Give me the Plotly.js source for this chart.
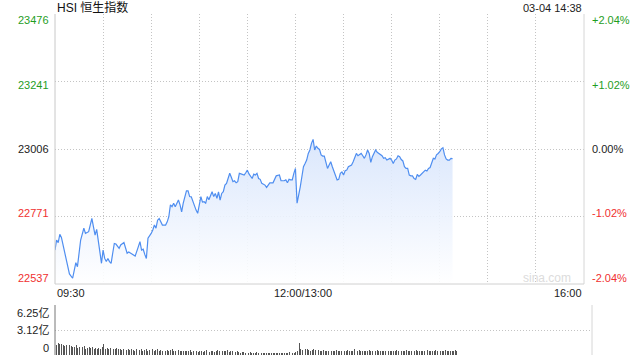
<!DOCTYPE html>
<html>
<head>
<meta charset="utf-8">
<script src="https://cdn.plot.ly/plotly-3.0.1.min.js"></script>
<style>html,body{margin:0;padding:0;background:#fff;}#chart{width:640px;height:360px;}</style>
</head>
<body>
<div id="chart"></div>
<script>
// minutes since 09:30 on the trading clock (lunch break removed: 12:00 and 13:00 share minute 150)
const priceMinutes = [0,1,2,3,4,5,6,8,9,11,12,13,14,15,16,18,19,21,22,23,24,25,26,27,28,29,30,31,32,33,34,35,36,37,38,40,41,42,43,45,46,48,50,52,53,54,55,56,57,58,59,60,61,62,63,64,65,66,67,69,70,71,72,73,74,75,76,77,78,79,80,81,82,83,84,85,86,87,88,89,90,91,92,93,94,95,96,97,98,99,100,101,102,103,104,105,106,107,108,109,110,111,112,113,114,115,116,117,118,119,120,121,122,123,124,125,126,127,128,129,131,132,133,134,136,137,138,140,141,143,144,145,146,147,148,149,150,151,152,153,154,155,156,157,158,159,160,161,162,163,164,165,166,167,168,169,170,171,172,173,174,175,176,177,178,179,180,181,182,183,185,186,187,188,189,190,191,192,193,194,195,196,197,198,199,200,201,202,203,204,205,206,207,208,209,210,211,212,213,214,215,216,217,218,219,220,221,222,223,224,225,226,227,228,229,230,231,232,233,234,235,236,237,238,239,240,241,242,243,244,245,246,247,248];
const priceValues = [22655,22690,22681,22710,22699,22673,22644,22586,22572,22557,22580,22611,22597,22644,22690,22731,22713,22719,22748,22765,22736,22707,22727,22690,22638,22609,22655,22626,22615,22626,22615,22609,22644,22678,22676,22661,22673,22678,22681,22644,22648,22641,22634,22667,22684,22655,22658,22640,22626,22696,22704,22713,22725,22742,22731,22759,22765,22753,22742,22742,22753,22771,22812,22806,22818,22806,22818,22829,22812,22788,22818,22846,22861,22861,22841,22840,22823,22806,22794,22783,22812,22841,22822,22823,22818,22841,22830,22846,22858,22841,22852,22835,22857,22829,22852,22858,22881,22887,22904,22922,22908,22893,22896,22889,22893,22922,22920,22919,22916,22924,22933,22920,22910,22904,22919,22916,22922,22904,22901,22887,22881,22873,22881,22889,22889,22899,22913,22916,22896,22896,22899,22889,22901,22899,22899,22922,22939,22818,22841,22875,22910,22945,22956,22968,22991,23003,23026,23040,23003,23017,23009,23005,22986,22982,22982,22962,22939,22951,22962,22945,22927,22910,22899,22901,22922,22927,22916,22931,22933,22945,22951,22962,22980,22991,22983,22987,22991,22983,22974,22986,23003,22991,22960,22980,22991,23003,22995,22991,22986,22983,22974,22976,22968,22972,22974,22968,22956,22968,22972,22983,22980,22970,22965,22945,22939,22939,22916,22913,22913,22904,22901,22918,22911,22916,22922,22928,22933,22930,22939,22942,22956,22974,22972,22986,22991,22997,23007,23011,22986,22972,22968,22968,22974,22973];

// volume per minute, in 亿
const volumeValues = [
1.90,1.30,1.45,1.35,1.40,1.25,1.10,1.30,1.05,1.20,
1.15,0.95,1.05,1.25,0.85,1.00,0.90,0.95,1.10,0.80,
0.90,1.00,0.85,0.95,0.80,0.90,0.75,0.85,0.80,0.95,
1.35,0.80,0.90,0.75,0.85,0.70,0.80,0.75,0.90,0.70,
0.75,0.65,0.80,0.70,0.60,0.75,0.65,0.70,0.60,0.55,
0.70,0.60,0.65,0.75,0.55,0.60,0.70,0.55,0.65,0.60,
0.75,0.55,0.60,0.70,0.50,0.65,0.55,0.60,0.50,0.65,
0.55,0.60,0.75,0.50,0.55,0.45,0.60,0.50,0.55,0.45,
0.50,0.55,0.45,0.60,0.40,0.50,0.45,0.55,0.40,0.50,
0.45,0.40,0.55,0.60,0.45,0.40,0.50,0.45,0.40,0.55,
0.60,0.45,0.40,0.50,0.55,0.45,0.60,0.40,0.50,0.45,
0.40,0.35,0.45,0.40,0.30,0.35,0.40,0.30,0.35,0.30,
0.35,0.30,0.25,0.30,0.35,0.25,0.30,0.20,0.25,0.30,
0.25,0.20,0.25,0.30,0.20,0.25,0.20,0.30,0.25,0.20,
0.25,0.30,0.20,0.25,0.35,0.30,0.25,0.30,0.40,0.45,
1.50,0.70,0.60,0.65,0.75,0.70,0.60,0.55,0.65,0.70,
0.60,0.55,0.65,0.50,0.55,0.60,0.50,0.55,0.45,0.50,
0.55,0.50,0.45,0.60,0.50,0.55,0.45,0.50,0.55,0.45,
0.60,0.50,0.55,0.45,0.70,0.55,0.50,0.60,0.45,0.50,
0.55,0.45,0.50,0.60,0.45,0.50,0.55,0.45,0.65,0.50,
0.45,0.55,0.50,0.45,0.60,0.50,0.55,0.45,0.50,0.55,
0.60,0.45,0.50,0.55,0.45,0.50,0.60,0.55,0.45,0.50,
0.55,0.45,0.60,0.50,0.55,0.45,0.50,0.55,0.45,0.60,
0.50,0.55,0.45,0.50,0.60,0.55,0.50,0.45,0.55,0.50,
0.60,0.55,0.50,0.45,0.55,0.50,0.60,0.45];
const volumeMinutes = volumeValues.map((v, i) => i);

const priceTicks = [23476, 23241, 23006, 22771, 22537];
const priceTickLabels = ['23476', '23241', '23006', '22771', '22537'];
const pctTickLabels = ['+2.04%', '+1.02%', '0.00%', '-1.02%', '-2.04%'];
const volTickLabels = ['6.25亿', '3.12亿', '0'];
const volTicks = [6.25, 3.12, 0];
const timeTicks = [0, 30, 60, 90, 120, 150, 180, 210, 240, 270, 300, 330];
const timeLabels = ['09:30', '12:00/13:00', '16:00'];
const titleText = 'HSI 恒生指数';
const stampText = '03-04 14:38';
const prevClose = 23006;

const FONT = 'Liberation Sans, Arial, Noto Sans CJK SC, sans-serif';
const GREEN = '#1f9e1f', RED = '#f0302f', DARK = '#222';
const MAIN_END = 529 / 537;
const GRID = '#c4c4c4', GRIDDASH = '1px,2px';
const py = p => (355 - p) / 341; // pixel row -> paper y

const traces = [
  {
    x: priceMinutes, y: priceValues, type: 'scatter', mode: 'lines',
    line: {color: '#4f8ef0', width: 1.2},
    fill: 'tozeroy',
    fillgradient: {type: 'vertical', start: 22537, stop: 23045,
      colorscale: [[0, 'rgba(255,255,255,0.9)'], [1, 'rgba(214,228,252,0.9)']]},
    xaxis: 'x', yaxis: 'y', hoverinfo: 'skip'
  },
  {
    x: volumeMinutes, y: volumeValues, type: 'bar', width: 0.55,
    marker: {color: '#555', line: {width: 0}},
    xaxis: 'x2', yaxis: 'y2', hoverinfo: 'skip'
  }
];

const labelColor = v => v > prevClose ? GREEN : (v < prevClose ? RED : DARK);
const labelRows = [20, 84.5, 149, 213.5, 278];
const annotations = [];
priceTicks.forEach((v, i) => {
  annotations.push({xref: 'paper', yref: 'paper', x: 0, y: py(labelRows[i]), xanchor: 'right', yanchor: 'middle',
    xshift: -4, text: priceTickLabels[i], showarrow: false, font: {family: FONT, size: 11, color: labelColor(v)}});
  annotations.push({xref: 'paper', yref: 'paper', x: MAIN_END, y: py(labelRows[i]), xanchor: 'left', yanchor: 'middle',
    xshift: 6, text: pctTickLabels[i], showarrow: false, font: {family: FONT, size: 11, color: labelColor(v)}});
});
const volRows = [313, 330, 348];
volTicks.forEach((v, i) => {
  annotations.push({xref: 'paper', yref: 'paper', x: 0, y: py(volRows[i]), xanchor: 'right', yanchor: 'middle',
    xshift: -4, text: volTickLabels[i], showarrow: false, font: {family: FONT, size: 11, color: DARK}});
});
annotations.push({xref: 'paper', yref: 'paper', x: 0, y: py(293), xanchor: 'left', yanchor: 'middle',
  text: timeLabels[0], showarrow: false, font: {family: FONT, size: 11, color: DARK}});
annotations.push({xref: 'paper', yref: 'paper', x: (303 - 55) / 537, y: py(293), xanchor: 'center', yanchor: 'middle',
  text: timeLabels[1], showarrow: false, font: {family: FONT, size: 11, color: DARK}});
annotations.push({xref: 'paper', yref: 'paper', x: MAIN_END, y: py(293), xanchor: 'right', yanchor: 'middle',
  text: timeLabels[2], showarrow: false, font: {family: FONT, size: 11, color: DARK}});
annotations.push({xref: 'paper', yref: 'paper', x: 0, y: py(7.5), xanchor: 'left', yanchor: 'middle',
  text: titleText, showarrow: false, font: {family: FONT, size: 12, color: '#111'}});
annotations.push({xref: 'paper', yref: 'paper', x: MAIN_END, y: py(7.5), xanchor: 'right', yanchor: 'middle',
  text: stampText, showarrow: false, font: {family: FONT, size: 11, color: DARK}});
annotations.push({xref: 'paper', yref: 'paper', x: (573 - 55) / 537, y: py(278), xanchor: 'right', yanchor: 'middle',
  text: 'sina.com', showarrow: false, font: {family: FONT, size: 12, color: '#dcdcdc'}});

const shapes = [
  {type: 'line', xref: 'x domain', yref: 'y domain', x0: 0, x1: 0, y0: 0, y1: 1, line: {color: '#c8c8c8', width: 1}},
  {type: 'line', xref: 'x domain', yref: 'y domain', x0: 1, x1: 1, y0: 0, y1: 1, line: {color: '#d6d6d6', width: 1}},
  {type: 'line', xref: 'x domain', yref: 'y domain', x0: 0, x1: 1, y0: 0, y1: 0, line: {color: '#d0d0d0', width: 1}},
  {type: 'line', xref: 'x2 domain', yref: 'y2 domain', x0: 0, x1: 0, y0: 0, y1: 1, line: {color: '#777', width: 1}},
  {type: 'line', xref: 'x2 domain', yref: 'y2 domain', x0: 1, x1: 1, y0: 0, y1: 1, line: {color: '#d6d6d6', width: 1}}
];

const layout = {
  width: 640, height: 360,
  margin: {l: 55, r: 48, t: 14, b: 5, pad: 0},
  paper_bgcolor: '#fff', plot_bgcolor: '#fff',
  showlegend: false, bargap: 0,
  font: {family: FONT, size: 11, color: DARK},
  xaxis: {domain: [0, MAIN_END], range: [0, 330], tickvals: timeTicks, showticklabels: false, ticks: '',
    showgrid: true, gridcolor: GRID, griddash: GRIDDASH, gridwidth: 1, zeroline: false, showline: false, fixedrange: true},
  yaxis: {domain: [(355 - 284) / 341, 1], range: [22537, 23476], tickvals: [23241, 23006, 22771], showticklabels: false, ticks: '',
    showgrid: true, gridcolor: GRID, griddash: GRIDDASH, gridwidth: 1, zeroline: false, showline: false, fixedrange: true},
  xaxis2: {domain: [0, 1], range: [0, 330], anchor: 'y2', showticklabels: false, ticks: '', showgrid: false,
    zeroline: false, showline: false, fixedrange: true},
  yaxis2: {domain: [0, (355 - 305) / 341], range: [0, 6.25], anchor: 'x2', tickvals: volTicks, showticklabels: false, ticks: '',
    showgrid: true, gridcolor: GRID, griddash: GRIDDASH, gridwidth: 1, zeroline: false, showline: false, fixedrange: true},
  annotations: annotations,
  shapes: shapes
};

Plotly.newPlot('chart', traces, layout, {staticPlot: true, displayModeBar: false});
</script>
</body>
</html>
